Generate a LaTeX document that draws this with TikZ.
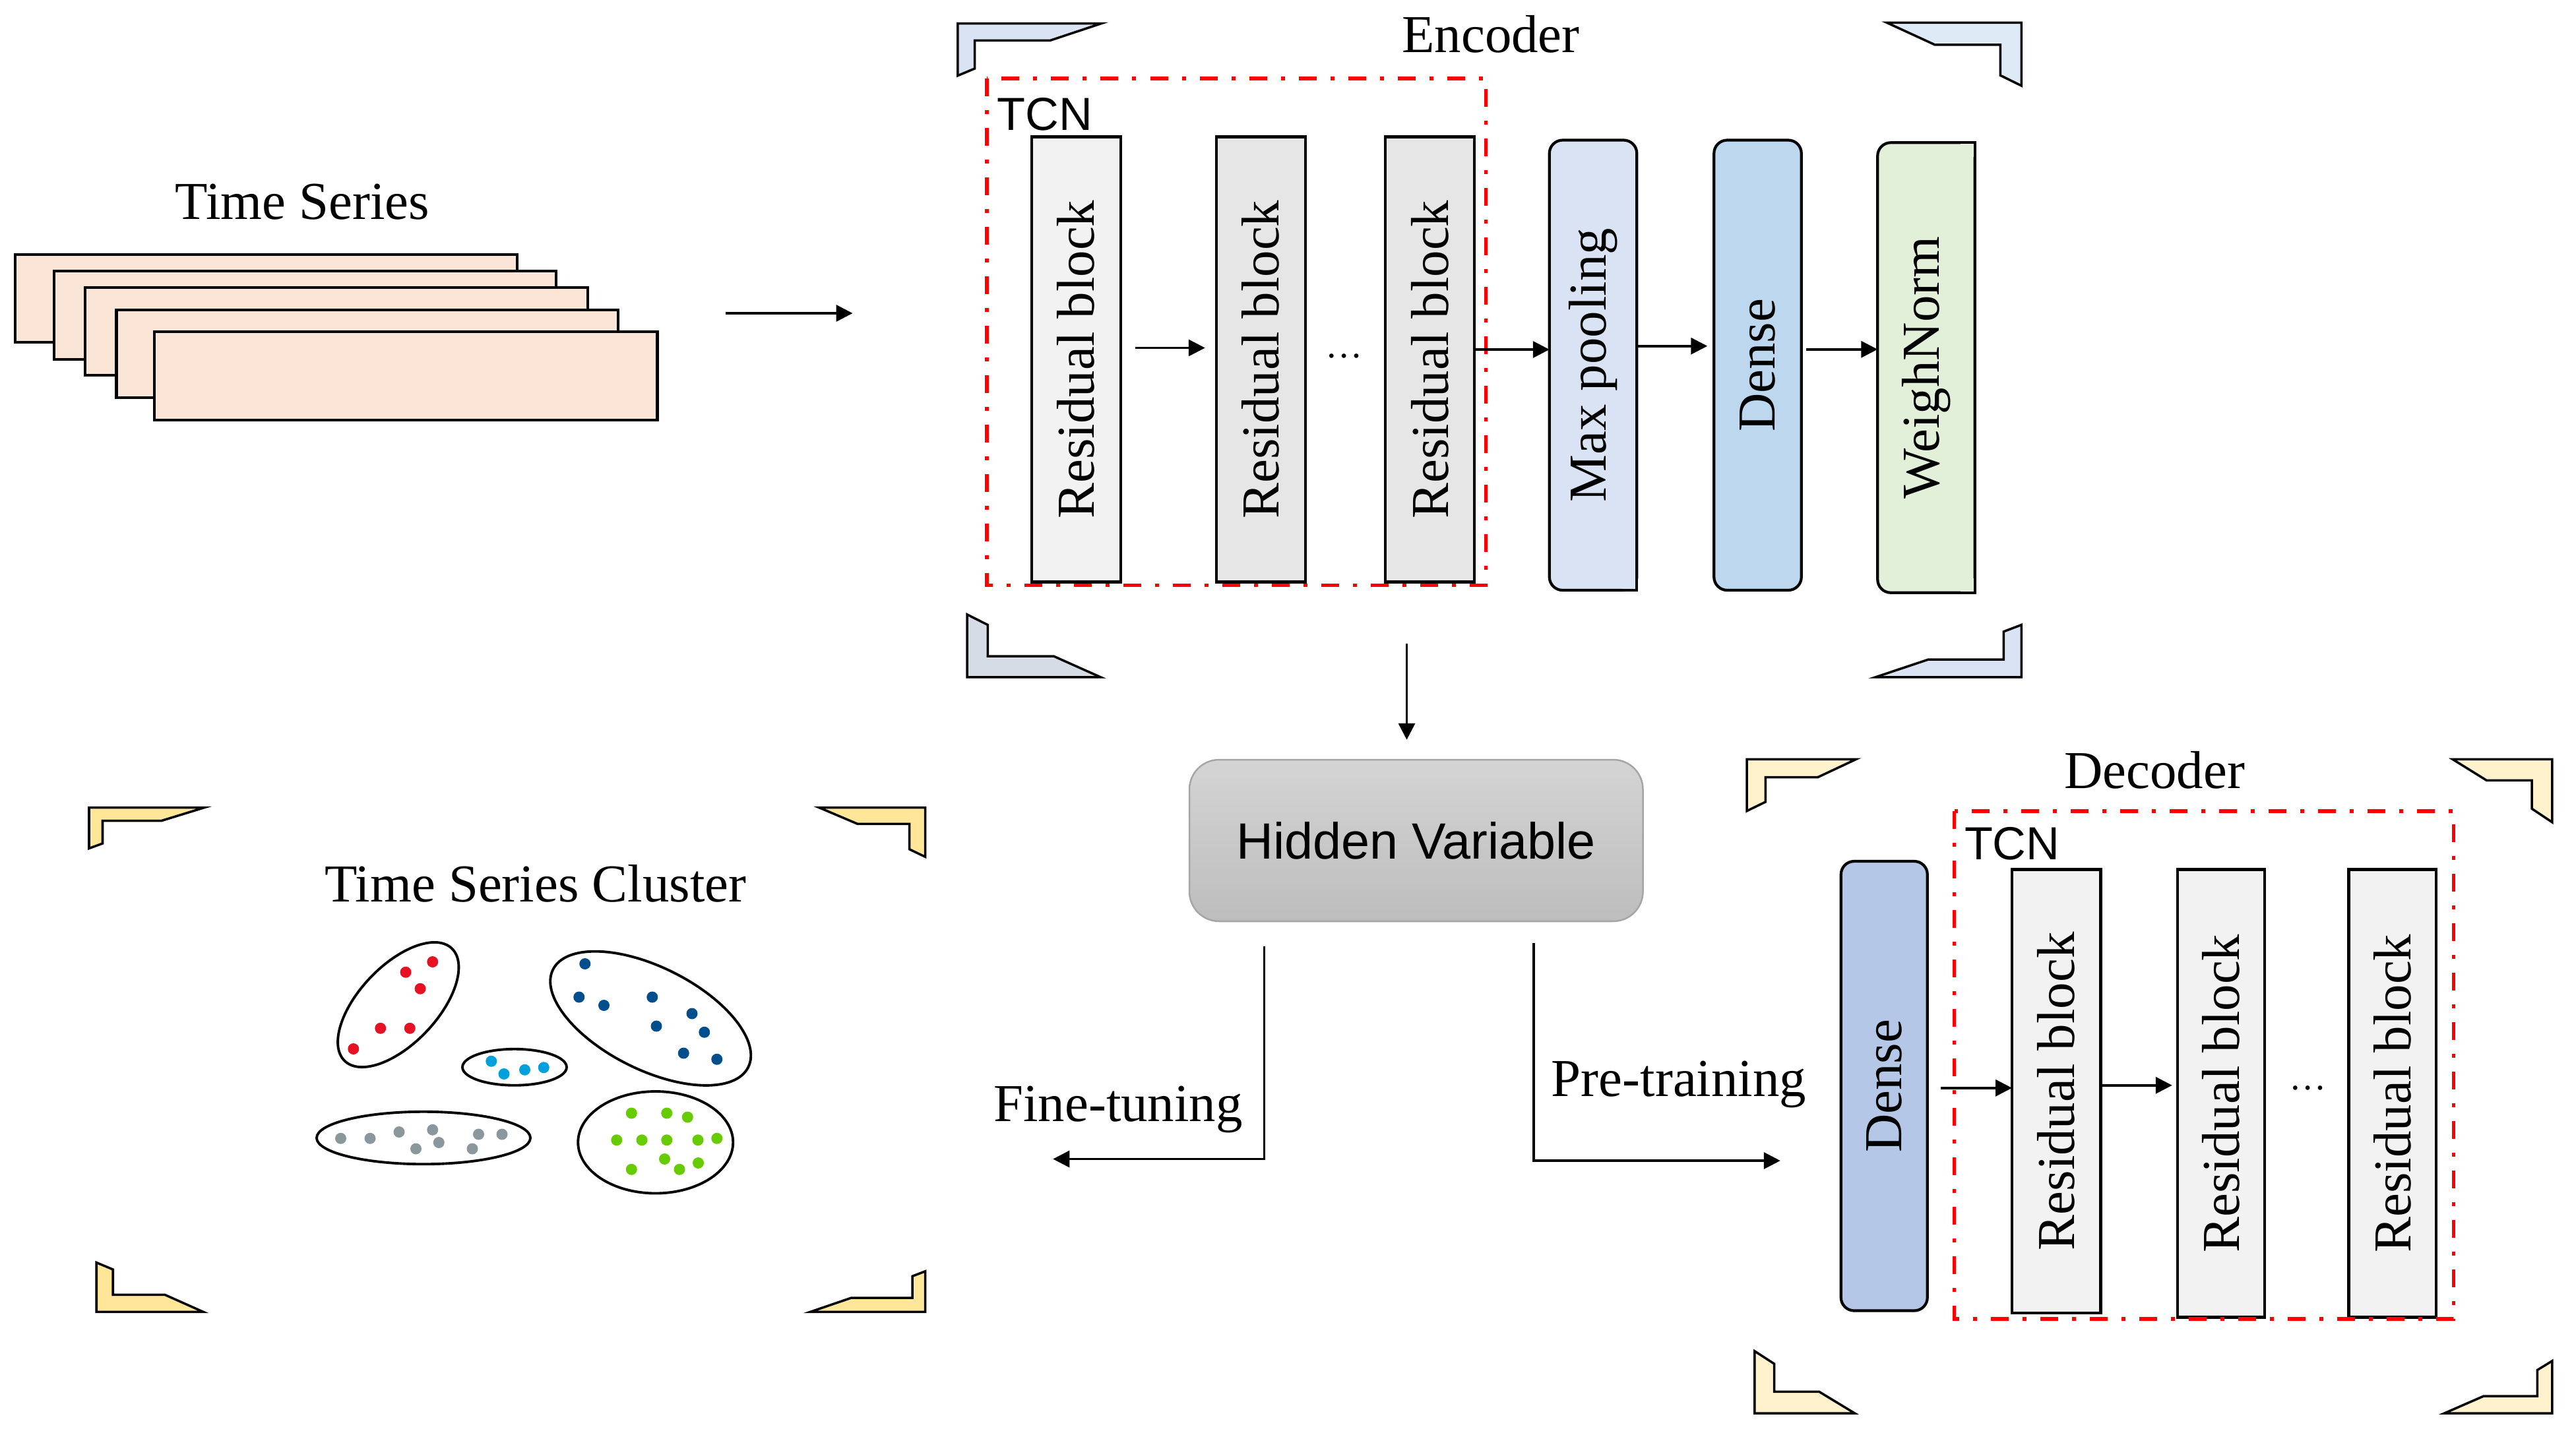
\documentclass[tikz,border=0pt]{standalone}
\usepackage{fontspec}
\usepackage{graphicx}
\setmainfont{Liberation Serif}
\newfontfamily\hvfont{Liberation Sans}
\usetikzlibrary{arrows.meta}
\definecolor{peach}{HTML}{FBE5D6}
\definecolor{rbA}{HTML}{F2F2F2}
\definecolor{rbB}{HTML}{E7E6E6}
\definecolor{mpc}{HTML}{DAE3F3}
\definecolor{dnc}{HTML}{BDD7EE}
\definecolor{wnc}{HTML}{E2F0D9}
\definecolor{dntwoc}{HTML}{B4C7E7}
\definecolor{brkE}{HTML}{DAE3F3}
\definecolor{brkEb}{HTML}{DEEBF7}
\definecolor{brkEc}{HTML}{D6DCE5}
\definecolor{brkY}{HTML}{FFE699}
\definecolor{brkD}{HTML}{FFF2CC}
\definecolor{hvtop}{HTML}{D4D4D4}
\definecolor{hvbot}{HTML}{BDBDBD}
\definecolor{hvline}{HTML}{A5A5A5}
\definecolor{cred}{HTML}{E81123}
\definecolor{cblue}{HTML}{004F8C}
\definecolor{ccyan}{HTML}{00A0DC}
\definecolor{cgray}{HTML}{8A979C}
\definecolor{cgreen}{HTML}{66CC00}
\definecolor{tcnred}{HTML}{FF0000}
\def\pxu{0.025cm}
\newcommand\serifbig{\fontsize{23}{27}\selectfont}
\newcommand\tcnfont{\hvfont\fontsize{20}{24}\selectfont}
\newcommand\bracket[9]{\begin{scope}[shift={(#2)},#3]\draw[brk,fill=#1] (0,0) -- (#4,0) -- (#5,#6) -- (#7,#6) -- (#7,#8) -- (0,#9) -- cycle;\end{scope}}
\newcommand\dotset[2]{\foreach \px/\py in {#2} \fill[#1] (\px,\py) circle[radius=3.4];}
\tikzset{
  arr/.style={line width=1pt,-{Triangle[length=0.25cm,width=0.25cm]}},
  blkbox/.style={draw,line width=1.2pt,inner sep=0pt,outer sep=0pt,font=\serifbig},
  tsbox/.style={draw,line width=1.2pt,fill=peach},
  brk/.style={draw,line width=1pt,line join=miter},
  tcnbox/.style={draw=tcnred,line width=1.6pt,dash pattern=on 0.27cm off 0.21cm on 0.06cm off 0.21cm},
  lbl/.style={font=\serifbig,inner sep=0pt,anchor=base},
  tcnlbl/.style={font=\tcnfont,inner sep=0pt,anchor=base west},
  cl/.style={draw,line width=1.1pt}
}
\begin{document}
\begin{tikzpicture}[x=0.025cm,y=-0.025cm]
\useasboundingbox (0,0) rectangle (1562,868.8);
\fill[white] (0,0) rectangle (1562,868.8);

% ---------- time series ----------
\draw[tsbox] (9.3,154.4) rectangle (313.6,207.6);
\draw[tsbox] (32.7,164.4) rectangle (337.3,218);
\draw[tsbox] (51.7,174.4) rectangle (356.3,227.7);
\draw[tsbox] (70.6,188) rectangle (374.9,241.2);
\draw[tsbox] (93.7,201.3) rectangle (398.6,254.7);
\node[lbl] (tslbl) at (183.4,132.8) {Time Series};
\coordinate (tsout) at (440,190);
\coordinate (encin) at (517,190);
\draw[arr] (tsout) -- (encin);

% ---------- encoder ----------
\bracket{brkE}{580.7,14.2}{}{87.2}{56.2}{10.3}{10.3}{27.4}{31.7}
\bracket{brkEb}{1225.7,13.7}{xscale=-1}{81.7}{52.6}{13.4}{12.8}{32}{38.3}
\bracket{brkEc}{586.4,410.7}{yscale=-1}{80.9}{52.5}{12.7}{12.5}{31.7}{38}
\bracket{brkE}{1225.7,410.7}{xscale=-1,yscale=-1}{88.4}{56.4}{10.7}{10.8}{27.6}{31.7}
\node[lbl] (enclbl) at (904,31.8) {Encoder};

\node[blkbox,fill=rbA,minimum width=54*\pxu,minimum height=270*\pxu] (rb1) at (652.5,218) {\rotatebox{90}{Residual block}};
\node[blkbox,fill=rbB,minimum width=54*\pxu,minimum height=270*\pxu] (rb2) at (764.5,218) {\rotatebox{90}{Residual block}};
\node[blkbox,fill=rbB,minimum width=54*\pxu,minimum height=270*\pxu] (rb3) at (867,218) {\rotatebox{90}{Residual block}};
\draw[tcnbox] (598.5,47.5) rectangle (901,355);
\node[tcnlbl] (tcnA) at (604.3,78.8) {TCN};
\node[font=\serifbig,inner sep=0pt,anchor=base] (dotsA) at (815,217) {\fontsize{16}{18}\selectfont …};

\node[blkbox,fill=mpc,rounded corners=0.2cm,minimum width=53*\pxu,minimum height=273*\pxu] (mp) at (966,221.5) {\rotatebox{90}{Max pooling}};
\fill[mpc] ([xshift=-0.22cm,yshift=0.22cm]mp.south east) rectangle (mp.south east);
\draw[line width=1.2pt] ([yshift=0.24cm]mp.south east) -- (mp.south east) -- ([xshift=-0.24cm]mp.south east);

\node[blkbox,fill=dnc,rounded corners=0.2cm,minimum width=53*\pxu,minimum height=273*\pxu] (dn) at (1065.8,221.5) {\rotatebox{90}{Dense}};

\node[blkbox,fill=wnc,rounded corners=0.2cm,minimum width=59*\pxu,minimum height=273*\pxu] (wn) at (1168,223) {\rotatebox{90}{WeighNorm}};
\fill[wnc] ([xshift=-0.22cm,yshift=0.22cm]wn.south east) rectangle (wn.south east);
\fill[wnc] ([xshift=-0.22cm,yshift=-0.22cm]wn.north east) rectangle (wn.north east);
\draw[line width=1.2pt] ([yshift=0.24cm]wn.south east) -- (wn.south east) -- ([xshift=-0.24cm]wn.south east);
\draw[line width=1.2pt] ([yshift=-0.24cm]wn.north east) -- (wn.north east) -- ([xshift=-0.24cm]wn.north east);

\draw[arr,shorten <=0.22cm,shorten >=0.17cm] ([yshift=0.175cm]rb1.east) -- ([yshift=0.175cm]rb2.west);
\draw[arr] ([yshift=0.15cm]rb3.east) -- ([yshift=0.15cm]rb3.east -| mp.west);
\draw[arr,shorten >=0.1cm] ([yshift=0.29cm]mp.east) -- ([yshift=0.29cm]mp.east -| dn.west);
\draw[arr,shorten <=0.07cm] ([yshift=0.24cm]dn.east) -- ([yshift=0.24cm]dn.east -| wn.west);

% ---------- hidden variable ----------
\node[draw=hvline,line width=0.7pt,rounded corners=0.45cm,top color=hvtop,bottom color=hvbot,minimum width=275*\pxu,minimum height=98*\pxu,inner sep=0pt,font=\hvfont\fontsize{22}{26}\selectfont] (hv) at (858.7,509.8) {Hidden Variable};
\coordinate (encout) at (853,390.4);
\draw[arr,shorten >=0.29cm] (encout) -- (encout |- hv.north);

\coordinate (fts) at (766.5,574);
\coordinate (fte) at (638.5,703);
\draw[arr] (fts) |- (fte);
\node[lbl] (ftlbl) at (678,680) {Fine-tuning};

\coordinate (pts) at (930,572);
\coordinate (pte) at (1079.5,704);
\draw[arr] (pts) |- (pte);
\node[lbl] (ptlbl) at (1018,665) {Pre-training};

% ---------- decoder ----------
\bracket{brkD}{1059.2,460.5}{}{66.3}{43.1}{10.9}{11.3}{25.9}{31.4}
\bracket{brkD}{1547.5,460.5}{xscale=-1}{60.4}{39.8}{12.8}{12.3}{30}{38.2}
\bracket{brkD}{1063.9,857.2}{yscale=-1}{60.7}{39.1}{13.1}{11.9}{30}{37.7}
\bracket{brkD}{1547.5,857.2}{xscale=-1,yscale=-1}{65.3}{41.5}{10.4}{9}{26.2}{31.7}
\node[lbl] (declbl) at (1306.5,478) {Decoder};

\node[blkbox,fill=dntwoc,rounded corners=0.2cm,minimum width=52.4*\pxu,minimum height=272.6*\pxu] (dn2) at (1142.5,658.7) {\rotatebox{90}{Dense}};
\node[blkbox,fill=rbA,minimum width=53.8*\pxu,minimum height=269*\pxu] (db1) at (1246.9,661.9) {\rotatebox{90}{Residual block}};
\node[blkbox,fill=rbA,minimum width=53*\pxu,minimum height=271.6*\pxu] (db2) at (1346.8,663.2) {\rotatebox{90}{Residual block}};
\node[blkbox,fill=rbA,minimum width=53.1*\pxu,minimum height=271.6*\pxu] (db3) at (1450.7,663.2) {\rotatebox{90}{Residual block}};
\draw[tcnbox] (1185,491.9) rectangle (1487.8,800);
\node[tcnlbl] (tcnB) at (1190.9,521.2) {TCN};
\node[font=\serifbig,inner sep=0pt,anchor=base] (dotsB) at (1399.5,661) {\fontsize{16}{18}\selectfont …};
\draw[arr,shorten <=0.2cm] ([yshift=-0.03cm]dn2.east) -- ([yshift=-0.03cm]dn2.east -| db1.west);
\draw[arr,shorten >=0.08cm] ([yshift=0.09cm]db1.east) -- ([yshift=0.09cm]db1.east -| db2.west);

% ---------- cluster ----------
\bracket{brkY}{54,489.8}{}{70}{44}{8}{8.2}{21.8}{24.8}
\bracket{brkY}{561,489.8}{xscale=-1}{64.4}{41.1}{9.9}{9.6}{25.3}{29.9}
\bracket{brkY}{58.5,795.7}{yscale=-1}{64.7}{41.4}{10.4}{10}{25.7}{29.9}
\bracket{brkY}{561,795.7}{xscale=-1,yscale=-1}{69.6}{44.8}{8.5}{7.8}{21.6}{24.6}
\node[lbl] (cllbl) at (324.7,546.8) {Time Series Cluster};

\draw[cl,rotate around={46.5:(241.5,609.4)}] (241.5,609.4) ellipse [x radius=47.1,y radius=23.6];
\draw[cl,rotate around={-26.6:(394.5,617.7)}] (394.5,617.7) ellipse [x radius=66.2,y radius=31.1];
\draw[cl] (312,647.3) ellipse [x radius=31.6,y radius=11];
\draw[cl] (256.8,690.2) ellipse [x radius=64.8,y radius=15.9];
\draw[cl] (397.5,692.9) ellipse [x radius=47,y radius=30.9];

\dotset{cred}{262.3/583.4,246.0/589.7,254.8/599.7,230.7/623.7,248.5/623.7,214.3/636.2}
\dotset{cblue}{354.7/584.6,351.1/604.8,366.2/609.8,395.5/604.8,419.6/614.8,398.0/622.4,427.1/626.1,414.5/638.8,434.7/642.5}
\dotset{ccyan}{297.9/643.7,305.6/651.4,318.2/648.9,329.7/647.5}
\dotset{cgray}{206.6/690.5,224.4/690.5,242/686.6,262.3/685.3,266.1/693,252.2/696.8,290.2/688,304.4/688,286.4/696.8}
\dotset{cgreen}{382.9/675.2,404.3/675.2,416.9/677.6,373.9/691.5,389.2/691.5,404.3/691.5,423.2/691.5,434.7/690.5,403/703,423.4/705.4,382.9/709.3,412/709.3}
\end{tikzpicture}
\end{document}
